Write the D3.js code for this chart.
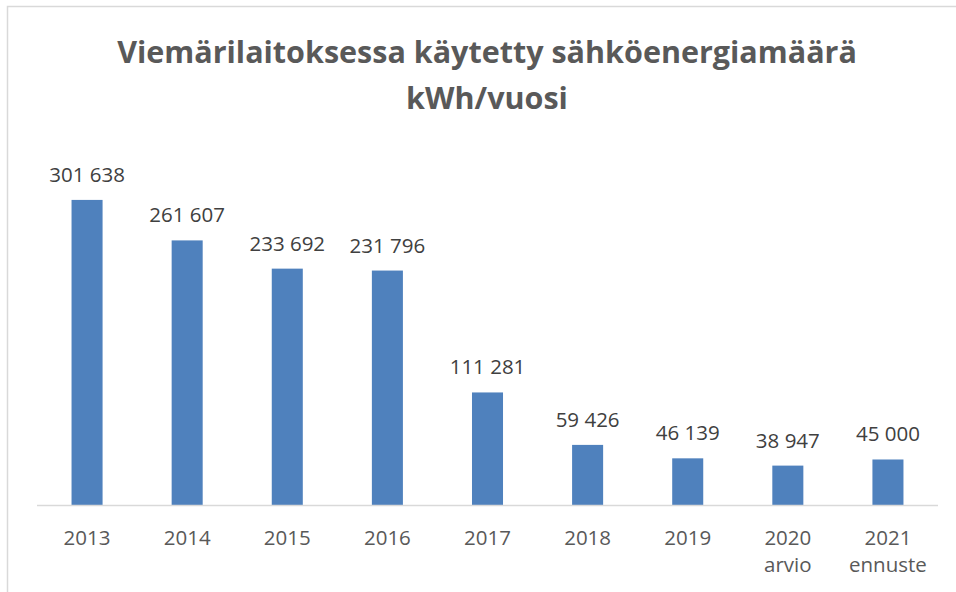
<!DOCTYPE html>
<html>
<head>
<meta charset="utf-8">
<script src="https://cdn.jsdelivr.net/npm/d3@7"></script>
<style>
  body { margin: 0; background: #fff; }
  svg { display: block; font-family: "Open Sans", sans-serif; }
</style>
</head>
<body>
<svg id="chart" width="956" height="592"></svg>
<script>
// data
const years = ["2013", "2014", "2015", "2016", "2017", "2018", "2019", "2020", "2021"];
const subLabels = ["", "", "", "", "", "", "", "arvio", "ennuste"];
const kwh = [301638, 261607, 233692, 231796, 111281, 59426, 46139, 38947, 45000];
const titleLines = ["Viemärilaitoksessa käytetty sähköenergiamäärä", "kWh/vuosi"];

const width = 956, height = 592;
const margin = { top: 151, right: 18, bottom: 87, left: 37 };
const innerWidth = width - margin.left - margin.right;
const innerHeight = height - margin.top - margin.bottom;

const svg = d3.select("#chart");

// outer chart border (right/bottom edges fall outside the picture)
svg.append("path")
  .attr("d", `M7.5,${height}V6.5H${width}`)
  .attr("fill", "none")
  .attr("stroke", "#d9d9d9")
  .attr("stroke-width", 1.5);

// title
svg.append("g")
  .selectAll("text")
  .data(titleLines)
  .enter()
  .append("text")
  .attr("x", 487)
  .attr("y", (d, i) => 63 + i * 46)
  .attr("text-anchor", "middle")
  .attr("font-size", "30.5px")
  .attr("font-weight", "bold")
  .attr("fill", "#595959")
  .text(d => d);

const xScale = d3.scaleBand()
  .domain(years)
  .range([0, innerWidth])
  .paddingInner(0.69)
  .paddingOuter(0.345);

const yScale = d3.scaleLinear()
  .domain([0, 350000])
  .range([innerHeight, 0]);

const plot = svg.append("g")
  .attr("transform", `translate(${margin.left},${margin.top})`);

// bars
plot.selectAll("rect.bar")
  .data(kwh)
  .enter()
  .append("rect")
  .attr("class", "bar")
  .attr("x", (d, i) => xScale(years[i]))
  .attr("y", d => yScale(d))
  .attr("width", xScale.bandwidth())
  .attr("height", d => innerHeight - yScale(d))
  .attr("fill", "#4f81bd");

// value labels, space as thousands separator
const fmt = v => d3.format(",")(v).replace(/,/g, " ");
plot.selectAll("text.val")
  .data(kwh)
  .enter()
  .append("text")
  .attr("class", "val")
  .attr("x", (d, i) => xScale(years[i]) + xScale.bandwidth() / 2)
  .attr("y", d => yScale(d) - 18)
  .attr("text-anchor", "middle")
  .attr("font-size", "20.5px")
  .attr("fill", "#404040")
  .text(fmt);

// x axis
const xAxis = plot.append("g")
  .attr("transform", `translate(0,${innerHeight})`)
  .call(d3.axisBottom(xScale).tickSize(0).tickPadding(0));
xAxis.select(".domain")
  .attr("stroke", "#d9d9d9")
  .attr("stroke-width", 1.5)
  .attr("d", `M0,0.5H${innerWidth}`);
xAxis.selectAll(".tick text").remove();

const ticks = xAxis.selectAll(".tick");
ticks.append("text")
  .attr("y", 40)
  .attr("text-anchor", "middle")
  .attr("font-size", "20.5px")
  .attr("font-family", "Open Sans, sans-serif")
  .attr("fill", "#595959")
  .text(d => d);
ticks.filter((d, i) => subLabels[i] !== "")
  .append("text")
  .attr("y", 67)
  .attr("text-anchor", "middle")
  .attr("font-size", "20.5px")
  .attr("font-family", "Open Sans, sans-serif")
  .attr("fill", "#595959")
  .text(d => subLabels[years.indexOf(d)]);
</script>
</body>
</html>
